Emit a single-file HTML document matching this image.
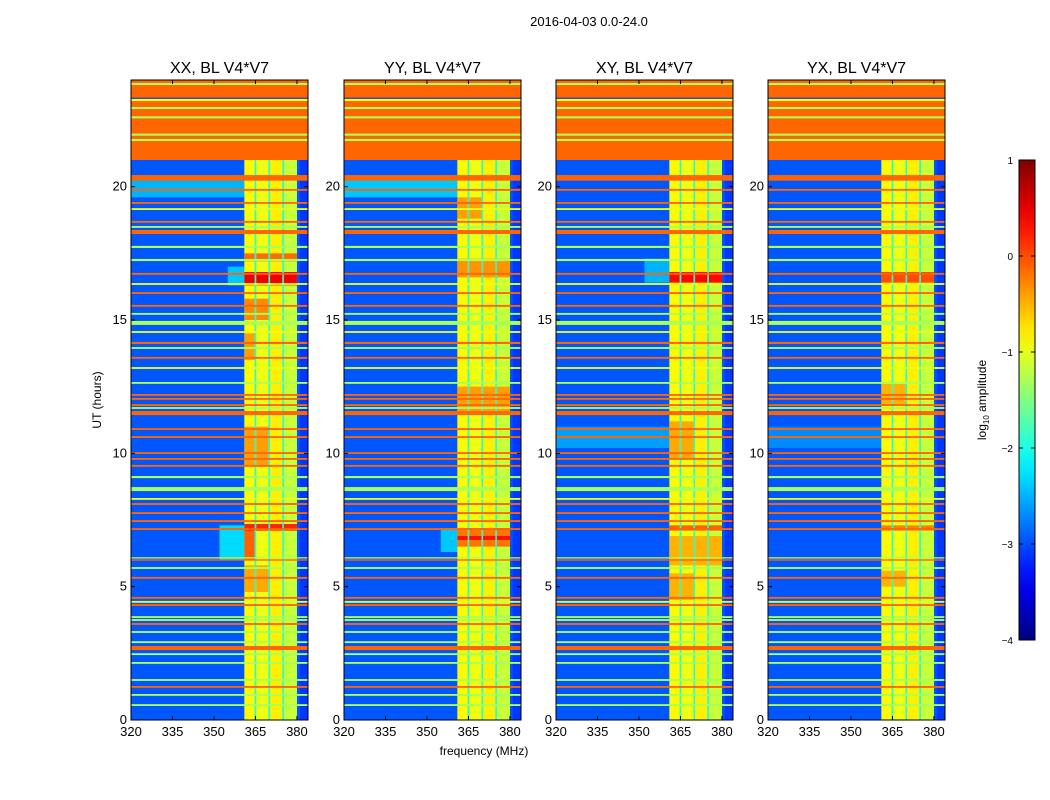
<!DOCTYPE html>
<html><head><meta charset="utf-8"><style>
body{margin:0;background:#fff;font-family:"Liberation Sans",sans-serif}
svg{display:block}
</style></head><body>
<svg id="fig" width="1050" height="800" xmlns="http://www.w3.org/2000/svg" font-family="Liberation Sans, sans-serif">
<rect width="1050" height="800" fill="#fff"/>
<text x="589" y="26" font-size="13" text-anchor="middle">2016-04-03 0.0-24.0</text>
<text transform="translate(101,400) rotate(-90)" font-size="12" text-anchor="middle">UT (hours)</text>
<text x="484" y="755" font-size="12" text-anchor="middle">frequency (MHz)</text>
<g id="panels"></g>
<g id="cbar"></g>
</svg>
<script>
// ---------- data ----------
const panelTitles = ["XX, BL V4*V7","YY, BL V4*V7","XY, BL V4*V7","YX, BL V4*V7"];
const xTicks = [320,335,350,365,380];
const yTicks = [0,5,10,15,20];
const cbTicks = [1,0,-1,-2,-3,-4];
const cbTickLabels = ["1","0","\u22121","\u22122","\u22123","\u22124"];
const freqMin = 320, freqMax = 384, timeMin = 0, timeMax = 24;
const backgroundLevel = -2.95;
const flaggedStart = 21, flaggedLevel = -0.12;
// top flagged region thin lines [time, value]
const flaggedLines = [[23.85,-1.3],[23.3,-3],[23.25,-0.9],[22.95,-1.3],[22.6,-1.3],[21.95,-1.3],[21.75,-1.3]];
// horizontal RFI lines [time, value, thickness(h)]
const hLines = [
 [20.40,-0.12,0.07],[20.30,-0.12,0.15],[19.88,-0.12,0.07],[19.39,-0.12,0.07],[19.16,-1.0,0.07],[18.68,-0.12,0.07],
 [18.49,-1.3,0.07],[18.30,-0.12,0.15],[17.74,-1.3,0.08],[17.25,-1.3,0.08],[16.73,-0.12,0.07],[16.35,-1.0,0.07],
 [16.01,-0.12,0.07],[15.53,-0.12,0.07],[15.23,-1.3,0.07],[14.89,-1.3,0.15],[14.55,-1.0,0.07],[14.14,-0.12,0.08],
 [13.95,-1.3,0.07],[13.58,-0.12,0.07],[13.2,-1.0,0.07],[12.64,-1.3,0.07],[12.19,-0.12,0.07],[12.04,-0.12,0.07],
 [11.81,-0.12,0.07],[11.7,-1.3,0.07],[11.51,-0.12,0.15],[10.91,-0.12,0.07],[10.61,-0.12,0.07],[10.01,-0.12,0.07],
 [9.79,-0.12,0.07],[9.53,-0.12,0.07],[9.11,-1.3,0.08],[8.66,-1.3,0.15],[8.29,-1.0,0.07],[8.1,-0.12,0.07],
 [7.76,-0.12,0.07],[7.46,-0.12,0.07],[7.16,-0.12,0.07],[6.08,-1.3,0.05],[6.0,-0.12,0.05],[5.7,-1.3,0.07],
 [5.33,-0.12,0.07],[4.58,-0.12,0.07],[4.43,-1.0,0.07],[4.31,-0.12,0.07],[3.86,-1.3,0.07],[3.75,-1.3,0.07],
 [3.6,-0.12,0.07],[3.3,-1.3,0.07],[2.92,-1.3,0.07],[2.7,-0.12,0.15],[2.47,-1.3,0.07],[2.14,-1.3,0.07],
 [1.5,-1.3,0.07],[1.24,-0.12,0.07],[0.94,-1.3,0.07],[0.56,-1.3,0.07]
];
// background zones per panel [panel, t0, t1, f0, f1, value]
const bgZones = [
 [0,19.6,20.3,320,361,-2.5],[1,19.6,20.3,320,361,-2.4],[2,10.2,11.0,320,361,-2.6],[3,10.2,11.0,320,361,-2.7],
 [0,6.0,7.3,352,361,-2.3],[1,6.3,7.2,355,361,-2.4],[2,16.4,17.3,352,361,-2.5],[0,16.3,17.0,355,361,-2.4],
 [0,0,24,381,384,-3.1],[1,0,24,381,384,-3.1],[2,0,24,381,384,-3.1],[3,0,24,381,384,-3.1]
];
// RFI band columns [f0, f1, value]
const bandCols = [[361,364.7,-0.85],[365.3,369.7,-0.95],[370.3,374.7,-0.8],[375.3,380,-1.15]];
const bandGapValue = -2.0;
// band highlights [panel, t0, t1, f0, f1, value]
const bandBlocks = [
 [0,16.3,16.8,361,380,0.45],[0,17.2,17.5,361,380,-0.15],[0,15.0,15.8,361,369.7,-0.3],[0,6.0,7.3,361,364.7,-0.1],
 [0,7.1,7.35,361,380,0.2],[0,9.5,11.0,361,369.7,-0.4],[0,13.5,14.5,361,364.7,-0.4],[0,4.8,5.8,361,369.7,-0.45],
 [1,6.5,7.2,361,380,-0.2],[1,6.75,6.9,361,380,0.3],[1,16.6,17.3,361,380,-0.35],[1,11.5,12.5,361,380,-0.4],[1,18.8,19.6,361,369.7,-0.4],
 [2,16.4,16.8,361,380,0.35],[2,7.1,7.3,361,380,-0.1],[2,5.8,6.9,361,380,-0.5],[2,9.8,11.2,361,369.7,-0.45],[2,4.5,5.5,361,369.7,-0.5],
 [3,16.4,16.8,361,380,0.0],[3,7.1,7.3,361,380,-0.25],[3,5.0,5.6,361,369.7,-0.5],[3,11.8,12.6,361,369.7,-0.5]
];
// ---------- rendering ----------
const NS="http://www.w3.org/2000/svg";
const panelX=[131,344,556,768], PW=177, PT=80, PH=640;
function jet(v){let t=(v+4)/5;t=Math.max(0,Math.min(1,t));
 const c=x=>Math.round(255*Math.max(0,Math.min(1,x)));
 return `rgb(${c(1.5-Math.abs(4*t-3))},${c(1.5-Math.abs(4*t-2))},${c(1.5-Math.abs(4*t-1))})`;}
function mk(tag,attrs,parent){const e=document.createElementNS(NS,tag);for(const k in attrs)e.setAttribute(k,attrs[k]);parent.appendChild(e);return e;}
const panelsG=document.getElementById('panels');
panelTitles.forEach((title,p)=>{
 const x0=panelX[p];
 const xs=f=>x0+(f-freqMin)/(freqMax-freqMin)*PW;
 const ys=t=>PT+PH-(t-timeMin)/(timeMax-timeMin)*PH;
 const g=mk('g',{},panelsG);
 
 
 const rect=(f0,f1,t0,t1,v)=>mk('rect',{x:xs(f0),y:ys(t1),width:xs(f1)-xs(f0),height:Math.max(1,ys(t0)-ys(t1)),fill:jet(v)},g);
 rect(freqMin,freqMax,timeMin,timeMax,backgroundLevel);
 bgZones.filter(z=>z[0]===p).forEach(z=>rect(z[3],z[4],z[1],z[2],z[5]));
 rect(bandCols[0][0],bandCols[bandCols.length-1][1],timeMin,flaggedStart,bandGapValue);
 bandCols.forEach(c=>{const r=rect(c[0],c[1],timeMin,flaggedStart,c[2]);});
 bandBlocks.filter(b=>b[0]===p).forEach(b=>bandCols.forEach(c=>{const f0=Math.max(b[3],c[0]),f1=Math.min(b[4],c[1]);if(f1>f0)rect(f0,f1,b[1],b[2],b[5]);}));
 hLines.forEach(l=>{const r=rect(freqMin,freqMax,l[0]-l[2]/2,l[0]+l[2]/2,l[1]);});
 const fr=rect(freqMin,freqMax,flaggedStart,timeMax,flaggedLevel);
 
 
 flaggedLines.forEach(l=>rect(freqMin,freqMax,l[0]-0.04,l[0]+0.04,l[1]));
 const fm=mk('rect',{x:x0,y:PT,width:PW,height:PH,fill:'none',stroke:'#000','stroke-width':1},g);
 
 
 const tt=mk('text',{x:x0+PW/2,y:PT-7,'font-size':16,'text-anchor':'middle'},g);tt.textContent=title;
 
 
 xTicks.forEach(v=>{const X=xs(v);mk('line',{x1:X,x2:X,y1:PT+PH,y2:PT+PH-4,stroke:'#000'},g);mk('line',{x1:X,x2:X,y1:PT,y2:PT+4,stroke:'#000'},g);
  const t=mk('text',{x:X,y:PT+PH+16,'font-size':13,'text-anchor':'middle'},g);t.textContent=v;
  
  });
 yTicks.forEach(v=>{const Y=ys(v);mk('line',{x1:x0,x2:x0+4,y1:Y,y2:Y,stroke:'#000'},g);mk('line',{x1:x0+PW,x2:x0+PW-4,y1:Y,y2:Y,stroke:'#000'},g);
  const t=mk('text',{x:x0-4,y:Y+4,'font-size':13,'text-anchor':'end'},g);t.textContent=v;
  
  });
});
// colorbar
const cb=document.getElementById('cbar');


const CBX=1019,CBW=16,CBT=160,CBH=480;
const defs=mk('defs',{},cb);const lg=mk('linearGradient',{id:'jetg',x1:0,y1:1,x2:0,y2:0},defs);
for(let i=0;i<=20;i++){const v=-4+5*i/20;mk('stop',{offset:i/20,'stop-color':jet(v)},lg);}
mk('rect',{x:CBX,y:CBT,width:CBW,height:CBH,fill:'url(#jetg)',stroke:'#000','stroke-width':1},cb);
const cy=v=>CBT+CBH-(v+4)/5*CBH;
cbTicks.forEach((v,i)=>{const Y=cy(v);mk('line',{x1:CBX,x2:CBX+4,y1:Y,y2:Y,stroke:'#000'},cb);mk('line',{x1:CBX+CBW,x2:CBX+CBW-4,y1:Y,y2:Y,stroke:'#000'},cb);
 const t=mk('text',{x:CBX-6,y:Y+4,'font-size':10,'text-anchor':'end'},cb);t.textContent=cbTickLabels[i];
 
 });
const cl=mk('text',{transform:'translate(986,400) rotate(-90)','font-size':12,'text-anchor':'middle'},cb);


cl.innerHTML='log<tspan font-size="8" dy="3">10</tspan><tspan dy="-3"> amplitude</tspan>';
</script>
</body></html>
